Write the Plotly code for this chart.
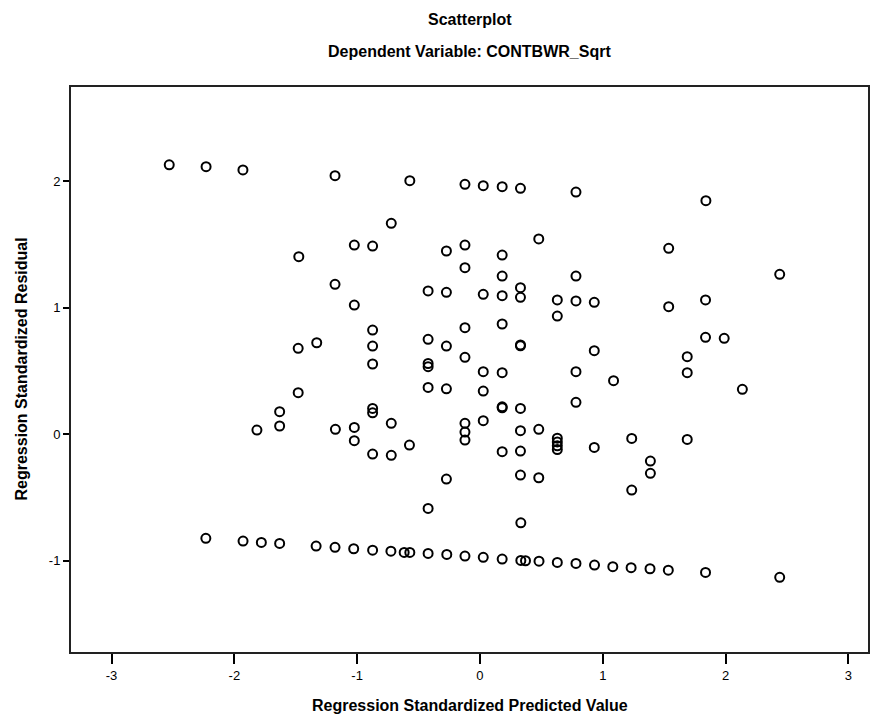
import plotly.graph_objects as go

# Regression standardized predicted value (x) and standardized residual (y)
pred = [
    -2.53, -2.23, -1.93, -1.18, -0.571, -0.122, 0.027, 0.181, 0.330, 0.782, 1.840,
    -0.722, -1.023, -0.874, -0.273, -0.122, 0.181, 0.479, 1.537, -1.475,
    -0.122, 0.181, 0.782, 2.441, -1.180, -0.422, -0.273, 0.027, 0.181, 0.330,
    0.330, 0.630, 0.782, 0.931, 1.837, -1.023, 1.537, 0.630, -0.874, -0.122,
    0.181, 1.837, 1.989, -0.422, -1.329, -1.480, -0.874, -0.273, 0.330, 0.330,
    0.931, 1.688, -0.122, -0.874, -0.422, -0.422, 0.027, 0.181, 0.782, 1.688,
    1.088, -0.422, -0.273, 0.027, 2.137, -1.480, 0.782, 0.181, 0.181, 0.330,
    -0.874, -0.874, -1.631, -0.722, -1.631, -1.816, -1.177, -1.023, -0.122, -0.122,
    -0.122, 0.027, 0.330, 0.479, -1.023, -0.574, -0.874, -0.722, 0.630, 0.630,
    0.630, 0.630, 0.181, 0.330, 0.931, 1.236, 1.688, 1.388, 1.388, 1.236,
    -0.273, 0.330, 0.479, -0.422, 0.333,
    -2.232, -1.929, -1.780, -1.631, -1.334, -1.180, -1.028, -0.874, -0.725, -0.617,
    -0.571, -0.422, -0.270, -0.122, 0.027, 0.181, 0.333, 0.371, 0.481, 0.630,
    0.782, 0.933, 1.082, 1.231, 1.385, 1.534, 1.837, 2.441,
]
resid = [
    2.13, 2.115, 2.09, 2.044, 2.005, 1.976, 1.965, 1.957, 1.944, 1.915, 1.847,
    1.668, 1.496, 1.488, 1.449, 1.496, 1.417, 1.544, 1.470, 1.404,
    1.317, 1.251, 1.251, 1.265, 1.186, 1.133, 1.122, 1.107, 1.096, 1.159,
    1.083, 1.062, 1.054, 1.043, 1.062, 1.022, 1.009, 0.935, 0.824, 0.843,
    0.872, 0.767, 0.759, 0.751, 0.724, 0.680, 0.698, 0.698, 0.706, 0.700,
    0.661, 0.614, 0.609, 0.556, 0.560, 0.535, 0.495, 0.487, 0.495, 0.487,
    0.424, 0.371, 0.360, 0.342, 0.356, 0.329, 0.253, 0.218, 0.210, 0.205,
    0.205, 0.170, 0.179, 0.087, 0.066, 0.034, 0.040, 0.055, 0.087, 0.018,
    -0.045, 0.108, 0.029, 0.040, -0.050, -0.085, -0.156, -0.166, -0.03, -0.06,
    -0.09, -0.12, -0.137, -0.132, -0.103, -0.032, -0.040, -0.211, -0.308, -0.440,
    -0.353, -0.322, -0.343, -0.585, -0.699,
    -0.822, -0.843, -0.854, -0.862, -0.883, -0.893, -0.904, -0.915, -0.923, -0.933,
    -0.933, -0.941, -0.949, -0.962, -0.972, -0.986, -0.996, -0.999, -1.002, -1.012,
    -1.020, -1.033, -1.046, -1.054, -1.062, -1.073, -1.091, -1.130,
]

x_ticks = [-3, -2, -1, 0, 1, 2, 3]
y_ticks = [-1, 0, 1, 2]

title_text = "Scatterplot"
subtitle_text = "Dependent Variable: CONTBWR_Sqrt"
x_title = "Regression Standardized Predicted Value"
y_title = "Regression Standardized Residual"

FONT = "Liberation Sans, Arial, sans-serif"

fig = go.Figure()
fig.add_trace(go.Scatter(
    x=pred, y=resid, mode="markers",
    marker=dict(symbol="circle-open", size=9, color="black",
                line=dict(width=2, color="black")),
    showlegend=False, hoverinfo="x+y",
))

axis_common = dict(
    showgrid=False, zeroline=False, showline=True, mirror=True,
    linecolor="#222222", linewidth=2, ticks="outside", tickcolor="black",
    tickwidth=2, tickfont=dict(family=FONT, size=13, color="black"),
)

fig.update_layout(
    width=879, height=721,
    margin=dict(l=71, r=9, t=87, b=69),
    paper_bgcolor="white", plot_bgcolor="white",
    xaxis=dict(range=[-3.33, 3.16], tickvals=x_ticks,
               ticktext=[str(v) for v in x_ticks], ticklen=10, **axis_common),
    yaxis=dict(range=[-1.72, 2.745], tickvals=y_ticks,
               ticktext=[str(v) for v in y_ticks], ticklen=6, **axis_common),
    font=dict(family=FONT, color="black"),
)

annots = [
    dict(text="<b>" + title_text + "</b>", x=0.5, y=1, yshift=68, font_size=16),
    dict(text="<b>" + subtitle_text + "</b>", x=0.5, y=1, yshift=36, font_size=16),
    dict(text="<b>" + x_title + "</b>", x=0.5, y=0, yshift=-53, font_size=16),
    dict(text="<b>" + y_title + "</b>", x=0, y=0.5, xshift=-50, textangle=-90, font_size=16),
]
for a in annots:
    fig.add_annotation(xref="paper", yref="paper", showarrow=False,
                       xanchor="center", yanchor="middle",
                       x=a["x"], y=a["y"], xshift=a.get("xshift", 0),
                       yshift=a.get("yshift", 0), textangle=a.get("textangle", 0),
                       text=a["text"],
                       font=dict(family=FONT, size=a["font_size"], color="black"))

fig.write_html("out.html")
